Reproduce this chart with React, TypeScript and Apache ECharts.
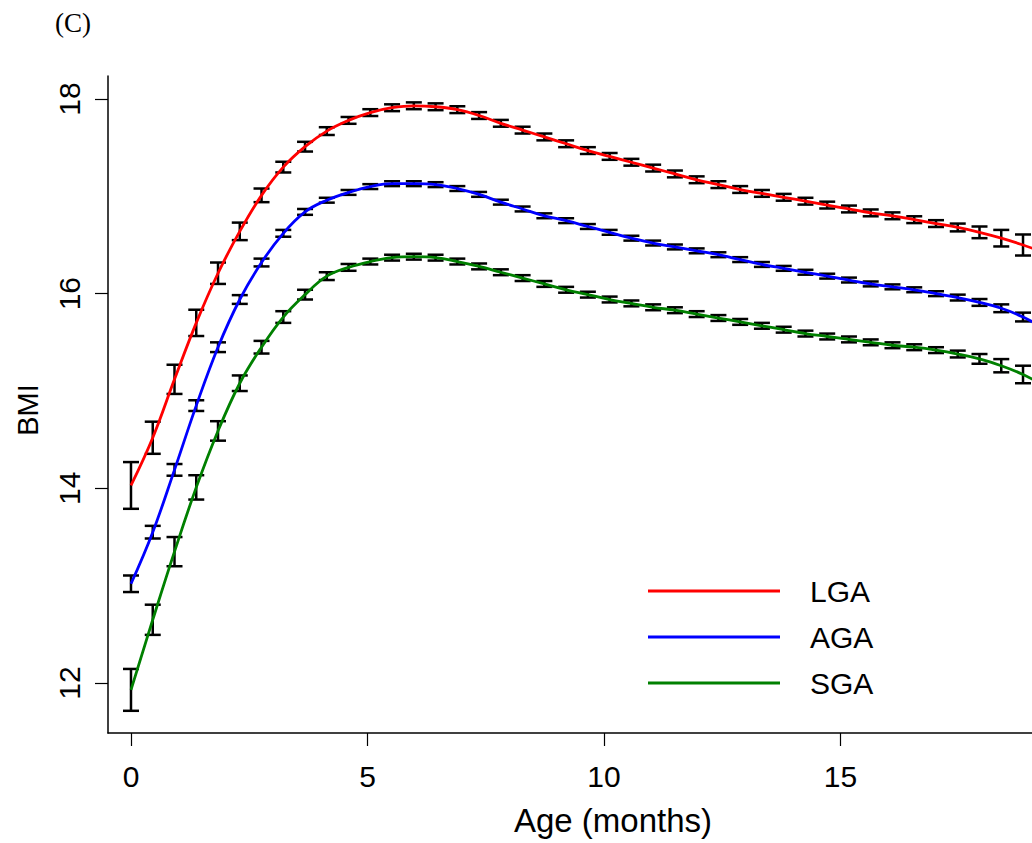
import React, { useEffect, useRef } from "react";
import * as echarts from "echarts";

// Age in months (2-week steps)
const months = [0, 0.46, 0.92, 1.38, 1.84, 2.3, 2.76, 3.22, 3.68, 4.14, 4.6, 5.06, 5.52, 5.98, 6.44, 6.9, 7.36, 7.82, 8.28, 8.74, 9.2, 9.66, 10.12, 10.58, 11.04, 11.5, 11.96, 12.42, 12.88, 13.34, 13.8, 14.26, 14.72, 15.18, 15.64, 16.1, 16.56, 17.02, 17.48, 17.94, 18.4, 18.86, 19.32];

const lga = [14.03, 14.52, 15.12, 15.7, 16.21, 16.64, 17.01, 17.3, 17.51, 17.67, 17.78, 17.86, 17.91, 17.93, 17.92, 17.89, 17.83, 17.75, 17.68, 17.61, 17.54, 17.47, 17.41, 17.35, 17.29, 17.23, 17.17, 17.12, 17.07, 17.03, 16.99, 16.95, 16.91, 16.87, 16.83, 16.8, 16.76, 16.72, 16.68, 16.63, 16.57, 16.5, 16.42];
const aga = [13.02, 13.55, 14.19, 14.85, 15.45, 15.94, 16.32, 16.62, 16.84, 16.96, 17.04, 17.1, 17.13, 17.13, 17.12, 17.08, 17.02, 16.94, 16.87, 16.8, 16.75, 16.69, 16.63, 16.57, 16.52, 16.48, 16.44, 16.4, 16.35, 16.3, 16.26, 16.22, 16.18, 16.14, 16.1, 16.07, 16.04, 16.0, 15.96, 15.91, 15.85, 15.76, 15.64];
const sga = [11.93, 12.65, 13.35, 14.01, 14.59, 15.08, 15.45, 15.76, 15.99, 16.18, 16.27, 16.33, 16.37, 16.38, 16.37, 16.33, 16.28, 16.22, 16.16, 16.1, 16.04, 15.99, 15.94, 15.9, 15.86, 15.83, 15.79, 15.75, 15.71, 15.67, 15.63, 15.59, 15.56, 15.53, 15.5, 15.47, 15.45, 15.42, 15.38, 15.33, 15.26, 15.17, 15.05];

// Half-widths of the confidence intervals
const lgaErr = [0.24, 0.165, 0.15, 0.135, 0.11, 0.09, 0.07, 0.055, 0.05, 0.04, 0.035, 0.035, 0.035, 0.035, 0.035, 0.035, 0.035, 0.035, 0.035, 0.035, 0.035, 0.035, 0.035, 0.035, 0.035, 0.035, 0.035, 0.035, 0.035, 0.035, 0.035, 0.035, 0.035, 0.035, 0.035, 0.035, 0.035, 0.035, 0.04, 0.06, 0.085, 0.108, 0.13];
const agaErr = [0.085, 0.065, 0.06, 0.055, 0.05, 0.045, 0.04, 0.035, 0.03, 0.025, 0.025, 0.025, 0.025, 0.025, 0.025, 0.025, 0.025, 0.025, 0.025, 0.025, 0.025, 0.025, 0.025, 0.025, 0.025, 0.025, 0.025, 0.025, 0.025, 0.025, 0.025, 0.025, 0.025, 0.025, 0.025, 0.025, 0.025, 0.025, 0.03, 0.035, 0.04, 0.045, 0.055];
const sgaErr = [0.215, 0.155, 0.15, 0.125, 0.1, 0.08, 0.065, 0.06, 0.05, 0.04, 0.035, 0.03, 0.03, 0.03, 0.03, 0.03, 0.03, 0.03, 0.03, 0.03, 0.03, 0.03, 0.03, 0.03, 0.03, 0.03, 0.03, 0.03, 0.03, 0.03, 0.03, 0.03, 0.03, 0.03, 0.03, 0.03, 0.03, 0.03, 0.035, 0.05, 0.068, 0.09, 0.11];

const xTicks = [0, 5, 10, 15];
const yTicks = [12, 14, 16, 18];
const groups = ["LGA", "AGA", "SGA"];
const colors = ["#ff0000", "#0000ff", "#008000"];

const FONT = "Liberation Sans, Arial, sans-serif";

export default function App() {
  const ref = useRef<HTMLDivElement>(null);
  useEffect(() => {
    if (!ref.current) return;
    const chart = echarts.init(ref.current, null, { renderer: "svg" });
    const values = [lga, aga, sga];
    const errs = [lgaErr, agaErr, sgaErr];

    const errSeries = values.map((vals, i) => ({
      type: "custom",
      name: groups[i] + " CI",
      z: 1,
      silent: true,
      clip: true,
      data: months.map((m, k) => [m, vals[k] - errs[i][k], vals[k] + errs[i][k]]),
      renderItem: (params: any, api: any) => {
        const lo = api.coord([api.value(0), api.value(1)]);
        const hi = api.coord([api.value(0), api.value(2)]);
        const hw = 8;
        const style = { stroke: "#000", lineWidth: 2.5 };
        return {
          type: "group",
          children: [
            { type: "line", shape: { x1: lo[0], y1: lo[1], x2: hi[0], y2: hi[1] }, style },
            { type: "line", shape: { x1: lo[0] - hw, y1: lo[1], x2: lo[0] + hw, y2: lo[1] }, style },
            { type: "line", shape: { x1: hi[0] - hw, y1: hi[1], x2: hi[0] + hw, y2: hi[1] }, style },
          ],
        };
      },
    }));

    const lineSeries = values.map((vals, i) => ({
      type: "line",
      name: groups[i],
      z: 3,
      smooth: 0.4,
      symbol: "none",
      clip: true,
      lineStyle: { color: colors[i], width: 2.8 },
      itemStyle: { color: colors[i] },
      data: months.map((m, k) => [m, vals[k]]),
    }));

    chart.setOption({
      animation: false,
      backgroundColor: "#ffffff",
      grid: { left: 108, top: 76, right: 0, bottom: 110, containLabel: false },
      xAxis: {
        type: "value",
        min: -0.486,
        max: 19.05,
        splitLine: { show: false },
        axisLine: { show: true, onZero: false, lineStyle: { color: "#000", width: 1.5 } },
        axisTick: { show: true, length: 13, customValues: xTicks, lineStyle: { color: "#000", width: 1.2 } },
        axisLabel: { customValues: xTicks, fontSize: 30, fontFamily: FONT, color: "#000", margin: 28 },
      },
      yAxis: {
        type: "value",
        min: 11.487,
        max: 18.236,
        splitLine: { show: false },
        axisLine: { show: true, onZero: false, lineStyle: { color: "#000", width: 1.5 } },
        axisTick: { show: true, length: 13, customValues: yTicks, lineStyle: { color: "#000", width: 1.2 } },
        axisLabel: { customValues: yTicks, rotate: 90, fontSize: 30, fontFamily: FONT, color: "#000", margin: 24 },
      },
      legend: {
        data: groups,
        orient: "vertical",
        left: 648,
        top: 575,
        padding: 0,
        icon: "rect",
        itemWidth: 132,
        itemHeight: 3,
        itemGap: 14,
        textStyle: { fontSize: 30, fontFamily: FONT, color: "#000", padding: [0, 0, 0, 25], lineHeight: 32 },
      },
      graphic: [
        { type: "text", left: 55, top: 9, style: { text: "(C)", fontSize: 27, fontFamily: "Liberation Serif, Times New Roman, serif", fill: "#000" } },
        { type: "text", x: 613, y: 820, style: { text: "Age (months)", fontSize: 33, fontFamily: FONT, fill: "#000", align: "center", verticalAlign: "middle" } },
        { type: "text", x: 28, y: 410, rotation: Math.PI / 2, style: { text: "BMI", fontSize: 29, fontFamily: FONT, fill: "#000", align: "center", verticalAlign: "middle" } },
      ],
      series: [...errSeries, ...lineSeries],
    });
    return () => chart.dispose();
  }, []);
  return <div ref={ref} style={{ position: "absolute", left: 0, top: 0, width: 1032, height: 843 }} />;
}
